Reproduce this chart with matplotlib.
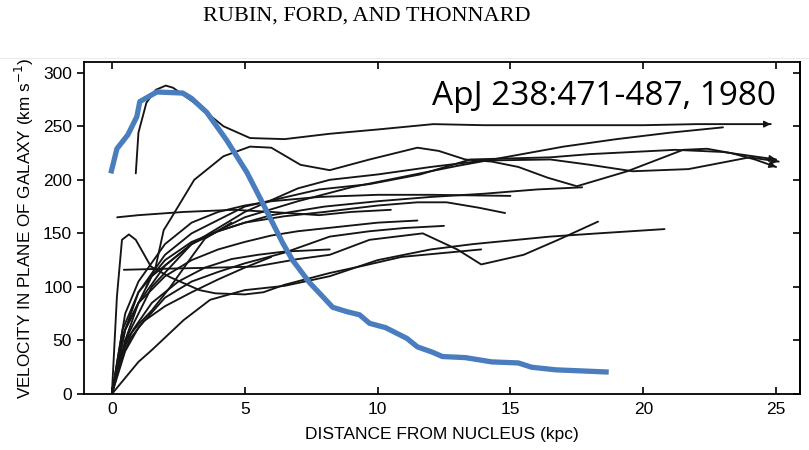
import matplotlib
matplotlib.use('Agg')
import matplotlib.pyplot as plt
from matplotlib.lines import Line2D

# rotation curves (kpc, km/s)
rc01_x = [0.9, 1.0, 1.3, 1.65, 2.03, 2.3, 3.1, 4.2, 5.2, 6.5, 8.2, 10, 12.1, 14, 16.8, 20, 22, 24.8]
rc01_y = [206, 244, 272, 284, 288, 286, 272, 250, 239, 238, 243, 247, 252, 251, 251, 251, 252, 252]
rc02_x = [1.3, 1.65, 1.95, 2.2, 3.1, 4.2, 5.2, 6.0, 7.1, 8.2, 9.7, 11.5, 12.3, 13.3, 14.3, 15.3, 16.4, 17.5, 19.4, 21.5, 22.4, 23.3, 24.2, 25.0]
rc02_y = [100, 119, 153, 163, 200, 222, 231, 230, 214, 209, 219, 230, 227, 219, 217, 212, 202, 194, 208, 228, 229, 225, 219, 212]
rc03_x = [0.2, 1, 2.7, 4.6, 6, 7.8, 9, 10.5]
rc03_y = [165, 167, 170, 172, 170, 167, 170, 172]
rc04_x = [0.45, 2, 3.9, 5.4, 7, 8.2, 9.7, 11.7, 13, 13.9, 15.5, 16.8, 18.3]
rc04_y = [116, 117, 118, 119, 126, 130, 144, 150, 135, 121, 130, 144, 161]
rc05_x = [0, 0.19, 0.38, 0.64, 0.9, 1.47, 2.2, 3.3, 3.9, 5.0, 5.7, 6.5, 8.2, 9.5, 10.9, 13.9]
rc05_y = [0, 91, 144, 149, 144, 119, 109, 97, 94, 93, 95, 102, 113, 120, 128, 135]
rc06_x = [0, 0.5, 1, 1.5, 2.7, 3.7, 5, 6.5, 8.2, 10, 12, 13.6, 16.5, 18.3, 20.8]
rc06_y = [0, 15, 30, 41, 69, 88, 97, 101, 110, 125, 135, 140, 147, 150, 154]
rc07_x = [0, 0.4, 1, 2, 3, 4, 5, 6.5, 8, 10, 11.5, 12.6, 13.8, 14.8]
rc07_y = [0, 60, 95, 125, 142, 152, 160, 166, 170, 176, 179, 179, 174, 169]
rc08_x = [0, 0.5, 1, 2, 3, 4, 5, 6, 7.8, 10, 12, 15]
rc08_y = [0, 75, 105, 140, 160, 170, 176, 180, 184, 186, 186, 185]
rc09_x = [0, 0.5, 1, 2, 3, 4, 5, 6, 8, 10, 12, 14, 16, 17.7]
rc09_y = [0, 50, 85, 120, 140, 152, 160, 167, 175, 180, 184, 187, 191, 193]
rc10_x = [0, 0.5, 1.5, 3, 5, 7, 9, 11, 13, 15, 17, 19, 21, 23]
rc10_y = [0, 60, 110, 140, 165, 180, 193, 203, 213, 222, 231, 238, 244, 249]
rc11_x = [0, 0.5, 1, 2, 3, 5, 7.8, 9.7, 11.6, 13.5, 16.5, 18, 21.2, 23, 25]
rc11_y = [0, 60, 95, 130, 150, 175, 191, 196, 205, 219, 221, 224, 228, 226, 219]
rc12_x = [0, 0.6, 1.5, 3, 5, 7, 8.2, 10, 12, 14, 16.5, 18, 19.6, 21.7, 24, 25.1]
rc12_y = [0, 55, 100, 140, 170, 192, 200, 205, 212, 218, 219, 214, 208, 210, 221, 217]
rc13_x = [0, 0.4, 1, 2, 3, 4, 5, 6, 7, 8.5, 10, 11.5]
rc13_y = [0, 55, 85, 110, 125, 135, 142, 148, 152, 156, 160, 162]
rc14_x = [0, 0.3, 0.8, 1.5, 2.5, 3.5, 4.5, 5.5, 6.5, 8.2]
rc14_y = [0, 35, 60, 85, 105, 118, 126, 130, 133, 135]
rc15_x = [0, 0.5, 1, 2, 3, 4, 5, 6.5, 8.2, 9.7, 11, 12.5]
rc15_y = [0, 40, 62, 90, 105, 114, 122, 132, 147, 152, 155, 157]
rc16_x = [0.5, 1, 1.5, 2.2, 3, 3.5, 4.5]
rc16_y = [50, 65, 78, 100, 128, 145, 160]
rc17_x = [0, 0.3, 0.7, 1.2, 2, 3, 4, 5, 6]
rc17_y = [0, 30, 52, 68, 82, 95, 107, 118, 128]

curves = [
    (rc01_x, rc01_y, True), (rc02_x, rc02_y, True), (rc03_x, rc03_y, False),
    (rc04_x, rc04_y, False), (rc05_x, rc05_y, False), (rc06_x, rc06_y, False),
    (rc07_x, rc07_y, False), (rc08_x, rc08_y, False), (rc09_x, rc09_y, False),
    (rc10_x, rc10_y, False), (rc11_x, rc11_y, True), (rc12_x, rc12_y, True),
    (rc13_x, rc13_y, False), (rc14_x, rc14_y, False), (rc15_x, rc15_y, False),
    (rc16_x, rc16_y, False), (rc17_x, rc17_y, False),
]

# Keplerian-like curve drawn in blue over the figure
blue_x = [-0.04, 0.19, 0.6, 0.94, 1.05, 1.69, 2.67, 3.0, 3.57, 4.32, 5.08, 5.68, 6.43, 6.8, 7.44, 7.82, 8.31, 8.83,
          9.32, 9.7, 10.3, 11.1, 11.5, 12.07, 12.44, 13.3, 14.3, 15.3, 15.8, 16.7, 18.7]
blue_y = [206, 229, 242, 259, 273, 282, 281, 276, 263, 237, 207, 178, 141, 125, 104, 94, 81, 77,
          74, 66, 62, 52, 44, 39, 35, 34, 30, 29, 25, 22.6, 20.5]

x_ticks = [0, 5, 10, 15, 20, 25]
y_ticks = [0, 50, 100, 150, 200, 250, 300]

plt.rcParams['font.family'] = ['Liberation Sans', 'DejaVu Sans']
fig = plt.figure(figsize=(8.09, 4.5), dpi=100)
ax = fig.add_axes([0.1038, 0.1244, 0.8851, 0.7378])

for cx, cy, arrow in curves:
    ax.plot(cx, cy, color='#151515', lw=1.35, solid_capstyle='round', solid_joinstyle='round')
    if arrow:
        tx = cx[-1] - 0.02 * (cx[-1] - cx[-2])
        ty = cy[-1] - 0.02 * (cy[-1] - cy[-2])
        ax.annotate('', xy=(cx[-1], cy[-1]), xytext=(tx, ty),
                    arrowprops=dict(arrowstyle='-|>', color='#151515', lw=1.0,
                                    mutation_scale=10))

ax.plot(blue_x, blue_y, color='#4a7dbd', lw=3.8, solid_capstyle='butt', solid_joinstyle='round')

ax.set_xlim(-1.05, 25.9)
ax.set_ylim(0, 310)
ax.set_xticks(x_ticks)
ax.set_yticks(y_ticks)
ax.tick_params(axis='x', direction='in', top=True, length=5, width=1.2, labelsize=12.5, pad=6)
ax.tick_params(axis='y', direction='out', length=5, width=1.2, labelsize=12.5)
sec = ax.secondary_yaxis('right')
sec.set_yticks(y_ticks)
sec.tick_params(direction='in', length=5, width=1.2, labelright=False)
for s in list(ax.spines.values()) + list(sec.spines.values()):
    s.set_linewidth(1.3)

ax.set_xlabel('DISTANCE FROM NUCLEUS (kpc)', fontsize=12.5, labelpad=7)
ax.set_ylabel('VELOCITY IN PLANE OF GALAXY (km s$^{-1}$)', fontsize=12.3, labelpad=5)

fig.text(0.4536, 0.965, 'RUBIN, FORD, AND THONNARD', family='Liberation Serif',
         fontsize=16, ha='center', va='center')
fig.add_artist(Line2D([0.0, 1.0], [0.871, 0.871], color='#ececec', lw=0.8))
ax.text(0.486, 0.895, 'ApJ 238:471-487, 1980', transform=ax.transAxes, family='Open Sans',
        fontsize=24, ha='left', va='center')

fig.savefig('out.png', dpi=100)
